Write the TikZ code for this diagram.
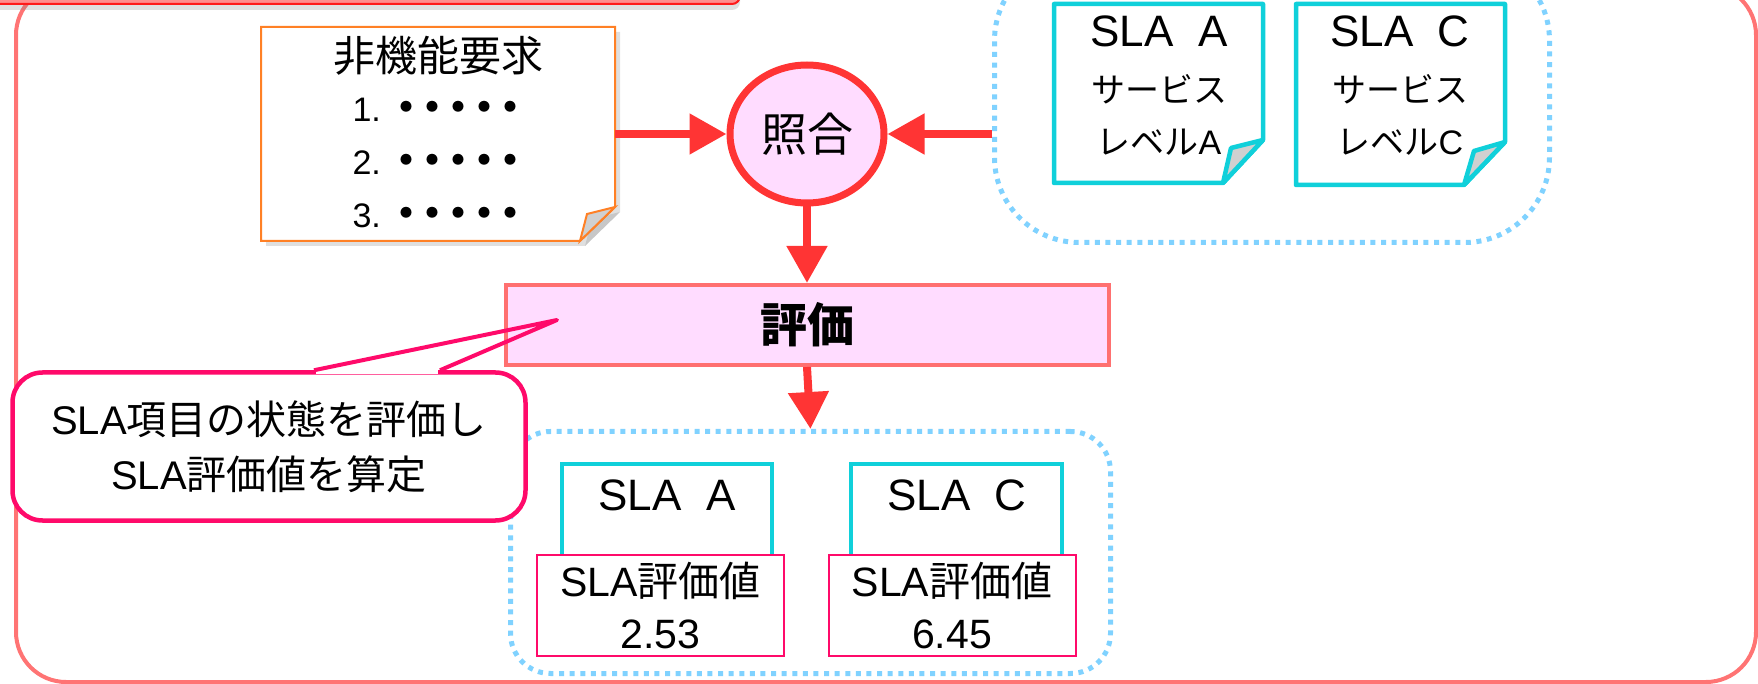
\documentclass[tikz,border=0pt]{standalone}
\usepackage{fontspec}
\setmainfont{Liberation Sans}
\newfontfamily\jpfont{Noto Sans CJK JP}
\newfontfamily\jpdotfont[RawFeature=+palt]{Noto Sans CJK JP}
\newcommand{\jtext}[1]{{\jpfont #1}}
\newcommand{\jdots}[1]{\raisebox{-2.5pt}{\jpdotfont\fontsize{26pt}{26pt}\selectfont #1}}
\usetikzlibrary{arrows.meta,shapes.geometric,shadows}

\definecolor{framered}{HTML}{FF7474}
\definecolor{bannerred}{HTML}{FF1A1A}
\definecolor{bannerpink}{HTML}{FF8E8E}
\definecolor{noteorange}{HTML}{FF8025}
\definecolor{flowred}{HTML}{FF3434}
\definecolor{lightpink}{HTML}{FFDCFF}
\definecolor{evalred}{HTML}{FF7070}
\definecolor{dotblue}{HTML}{80D2FF}
\definecolor{slacyan}{HTML}{10D0DA}
\definecolor{hotpink}{HTML}{FF0A6A}
\definecolor{foldgrey}{HTML}{D0D0D0}

\tikzset{
  flow/.style={draw=flowred, line width=4pt, -{Triangle[length=18.5pt, width=19.5pt]}},
  region/.style={draw=dotblue, line width=2.5pt, dash pattern=on 2.5pt off 2.8pt, rounded corners=#1, inner sep=0pt},
  banner/.style={draw=bannerred, fill=bannerpink, line width=1pt, rounded corners=4pt,
    drop shadow={shadow xshift=0pt, shadow yshift=-3pt, opacity=0.25}},
  noteline/.style={draw=noteorange, line width=1pt, fill=white,
    drop shadow={shadow xshift=2.5pt, shadow yshift=-2.5pt, opacity=0.25}},
  notetext/.style={align=center, inner sep=0pt, font=\fontsize{17pt}{26.5pt}\selectfont},
  doc/.style={draw=slacyan, line width=2.25pt, fill=white, line join=round},
  doctext/.style={align=center, inner sep=0pt, font=\fontsize{17pt}{26pt}\selectfont},
  matchnode/.style={ellipse, draw=flowred, line width=3.5pt, fill=lightpink, minimum width=77pt,
    minimum height=69pt, inner sep=0pt, font=\jpfont\fontsize{23pt}{23pt}\selectfont},
  evalbox/.style={draw=evalred, line width=2pt, fill=lightpink, minimum width=301.5pt,
    minimum height=40pt, inner sep=0pt, font=\jpfont\fontsize{23.5pt}{23.5pt}\selectfont\bfseries},
  slaline/.style={draw=slacyan, line width=2.25pt},
  restext/.style={inner sep=0pt, font=\fontsize{22pt}{22pt}\selectfont},
  valbox/.style={draw=hotpink, line width=1pt, fill=white, minimum width=123.5pt, minimum height=50.5pt,
    inner sep=0pt, align=center, font=\fontsize{20.5pt}{26pt}\selectfont},
  callbox/.style={draw=hotpink, line width=2.25pt, fill=white, rounded corners=15pt, minimum width=256.5pt,
    minimum height=74pt, inner sep=0pt, align=center, font=\fontsize{20pt}{27.5pt}\selectfont},
}

\begin{document}
\begin{tikzpicture}[x=0.5pt, y=-0.5pt]

  \useasboundingbox (0,0) rectangle (1758,684);
  \clip (0,0) rectangle (1758,684);

  % frame and title banner
  \draw[framered, line width=2pt, rounded corners=25pt] (16,-15) rectangle (1756,682);
  \draw[banner] (-40,-40) rectangle (740,4);

  % dotted groups
  \node[region=42.5pt, minimum width=277.5pt, minimum height=143.5pt] (specs) at (1272,99) {};
  \node[region=20pt, minimum width=300pt, minimum height=121pt] (results) at (810.5,552.5) {};

  % SLA documents
  \draw[doc] (1054,4) -- (1263,4) -- (1263,140) -- (1223,183) -- (1054,183) -- cycle;
  \draw[doc, fill=foldgrey] (1263,140) -- (1231,148) -- (1223,183) -- cycle;
  \node[doctext] (docA) at (1159,86)
    {{\fontsize{22pt}{22pt}\selectfont SLA\ \ A}\\[2pt] \jtext{サービス}\\ \jtext{レベル}A};

  \draw[doc] (1296,4) -- (1505,4) -- (1505,142) -- (1464,185) -- (1296,185) -- cycle;
  \draw[doc, fill=foldgrey] (1505,142) -- (1474,151) -- (1464,185) -- cycle;
  \node[doctext] (docC) at (1400,86)
    {{\fontsize{22pt}{22pt}\selectfont SLA\ \ C}\\[2pt] \jtext{サービス}\\ \jtext{レベル}C};

  % requirement note
  \draw[noteline] (261,27) -- (615,27) -- (615,207) -- (580,241) -- (261,241) -- cycle;
  \draw[noteline, fill=foldgrey] (615,207) -- (587,214) -- (580,241) -- cycle;
  \node[notetext, minimum width=177pt, minimum height=107pt] (req) at (438,134)
    {{\fontsize{21pt}{24pt}\selectfont\jtext{非機能要求}}\\[-1.5pt]
     1. \jdots{・・・・・}\\ 2. \jdots{・・・・・}\\ 3. \jdots{・・・・・}};

  % matching and evaluation
  \node[matchnode] (match) at (807,134) {照合};
  \node[evalbox] (eval) at (807,325) {評価};

  \draw[flow] (req.east) -- (match.west);
  \draw[flow] (specs.west |- match.east) -- (match.east);
  \draw[flow] (match.south) -- (eval.north);
  \draw[flow] (eval.south) -- (results.north);

  % evaluated SLAs
  \draw[slaline] (562,464) rectangle (772,560);
  \node[restext] (resA) at (667,495) {SLA\ \ A};
  \node[valbox] (valA) at (660.5,605.5) {SLA\jtext{評価値}\\2.53};

  \draw[slaline] (851,464) rectangle (1062,560);
  \node[restext] (resC) at (957,495) {SLA\ \ C};
  \node[valbox] (valC) at (952,605.5) {SLA\jtext{評価値}\\6.45};

  % callout
  \node[callbox] (callnote) at (269,446.5) {SLA\jtext{項目の状態を評価し}\\SLA\jtext{評価値を算定}};
  \coordinate (calltip) at (557,320);
  \fill[white] ([xshift=23.5pt, yshift=2pt]callnote.north) rectangle ([xshift=84.5pt, yshift=-2pt]callnote.north);
  \draw[hotpink, line width=2pt, line join=round] ([xshift=22.5pt]callnote.north) -- (calltip)
    -- ([xshift=85.5pt]callnote.north);

\end{tikzpicture}
\end{document}
